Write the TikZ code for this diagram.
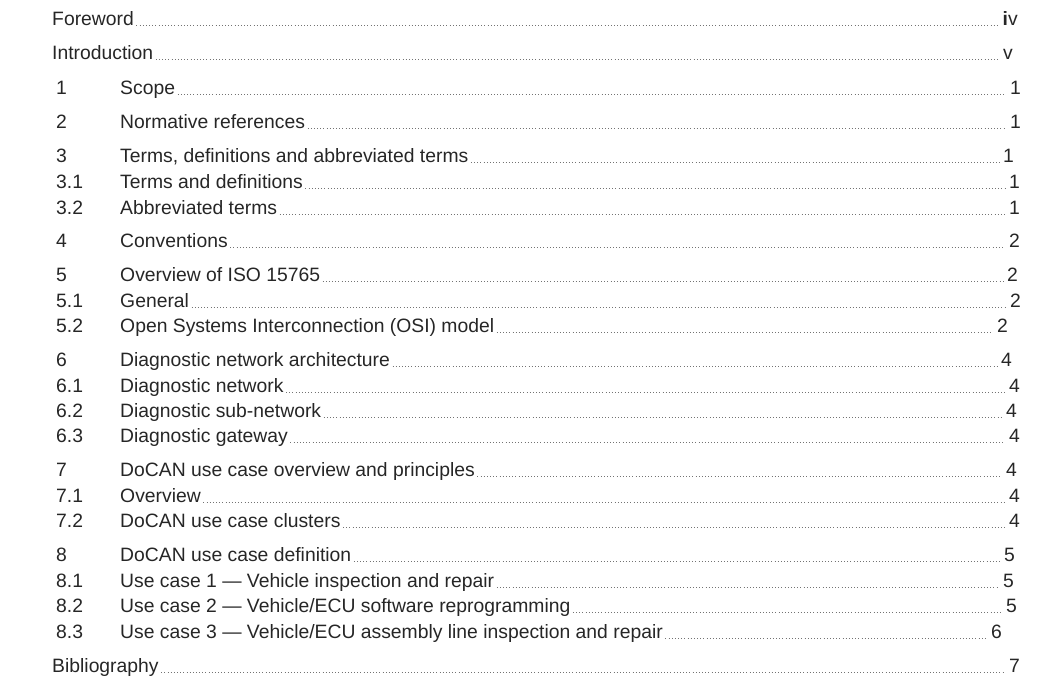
\documentclass[tikz,border=0pt]{standalone}
\usepackage{fontspec}
\setmainfont{Liberation Sans}
\usetikzlibrary{positioning}
\tikzset{
  entry/.style={anchor=base west, inner sep=0pt, text=black!85},
  pagenum/.style={anchor=base east, inner sep=0pt, text=black!85},
  leader/.style={black!55, line width=0.5pt, dash pattern=on 0.6pt off 2.1pt}
}
\begin{document}
\begin{tikzpicture}[x=0.03cm, y=-0.03cm, font=\fontsize{16.5}{18}\selectfont]
  \useasboundingbox (0,0) rectangle (1042,686);
  % entries: number / title / baseline / right edge of page number / page
  \foreach \num/\ttl/\yy/\px/\pg [count=\i] in {
    /Foreword/25/1018/{\textbf{i}v},
    /Introduction/59/1013/v,
    1/Scope/94/1021/1,
    2/Normative references/128/1021/1,
    3/{Terms, definitions and abbreviated terms}/162/1014/1,
    3.1/Terms and definitions/188/1020/1,
    3.2/Abbreviated terms/214/1020/1,
    4/Conventions/247/1020/2,
    5/Overview of ISO 15765/281/1018/2,
    5.1/General/307/1021/2,
    5.2/{Open Systems Interconnection (OSI) model\ }/332/1008/2,
    6/Diagnostic network architecture/366/1012/4,
    6.1/Diagnostic network/392/1020/4,
    6.2/Diagnostic sub-network/417/1017/4,
    6.3/Diagnostic gateway/442/1020/4,
    7/{DoCAN use case overview and principles\ }/476/1017/4,
    7.1/Overview/502/1020/4,
    7.2/{DoCAN use case clusters\ }/527/1020/4,
    8/DoCAN use case definition/561/1015/5,
    8.1/{Use case 1 --- Vehicle inspection and repair}/587/1014/5,
    8.2/{Use case 2 --- Vehicle/ECU software reprogramming\ }/612/1017/5,
    8.3/{Use case 3 --- Vehicle/ECU assembly line inspection and repair}/638/1002/6,
    /Bibliography/672/1020/7} {
    \ifx\num\empty
      \node[entry] (t\i) at (52,\yy) {\ttl};
    \else
      \node[entry] (n\i) at (56,\yy) {\num};
      \node[entry] (t\i) at (120,\yy) {\ttl};
    \fi
    \node[pagenum] (p\i) at (\px,\yy) {\pg};
    \draw[leader] ([xshift=2pt]t\i.base east) -- ([xshift=-3pt]p\i.base west);
  }
\end{tikzpicture}
\end{document}
